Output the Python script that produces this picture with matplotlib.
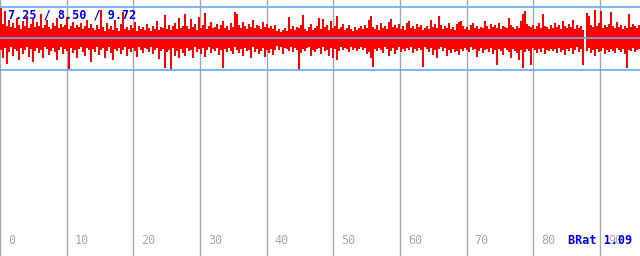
import matplotlib
matplotlib.use("Agg")
import matplotlib.pyplot as plt
import numpy as np

# ---- data (heights in pixels, one value per 2 px) ----
up_heights = [
    30, 14, 27, 12, 18, 11, 15, 10, 20, 13, 9, 17, 12, 22, 10, 14, 19, 11, 16, 12, 24, 10, 13, 18, 11, 9, 15, 12, 20, 10, 14, 11, 13, 21, 9, 12, 16, 10, 13, 11, 15, 9, 12, 18, 10, 14,
    10, 8, 13, 9, 28, 11, 7, 15, 9, 12, 8, 18, 10, 7, 14, 26, 9, 11, 8, 13, 10, 16, 7, 12, 9, 11, 8, 14, 10, 7, 12, 9, 17, 8, 11, 10, 23, 9, 13, 8, 12, 15, 9, 20, 10, 12,
    24, 12, 9, 19, 11, 14, 8, 21, 10, 13, 25, 9, 12, 16, 10, 11, 14, 9, 13, 17, 10, 12, 8, 15, 11, 26, 24, 13, 10, 16, 12, 9, 14, 11, 18, 10, 13, 12, 9, 16, 11, 14, 10, 12, 9, 13,
    7, 9, 6, 8, 10, 7, 21, 9, 12, 8, 11, 10, 13, 23, 9, 7, 11, 14, 8, 10, 12, 20, 9, 19, 11, 13, 8, 17, 10, 12, 22, 9, 11, 14, 8, 10, 13, 9, 7, 11, 8, 10, 12, 9, 13, 10,
    18, 22, 11, 9, 13, 8, 15, 10, 12, 9, 16, 19, 11, 13, 10, 14, 9, 12, 8, 15, 17, 10, 12, 9, 14, 11, 13, 8, 10, 12, 9, 18, 11, 14, 10, 22, 13, 9, 12, 10, 15, 9, 11, 8, 14, 16,
    17, 12, 9, 11, 8, 13, 15, 10, 12, 9, 11, 10, 17, 12, 9, 14, 11, 13, 10, 15, 9, 12, 11, 10, 20, 13, 11, 9, 12, 10, 17, 24, 27, 14, 12, 11, 13, 9, 12, 15, 10, 24, 12, 11, 9, 13,
    10, 15, 11, 13, 9, 17, 12, 10, 14, 11, 18, 9, 13, 10, 12, 8, 0, 25, 22, 13, 11, 28, 12, 15, 27, 10, 13, 11, 14, 26, 12, 10, 16, 11, 13, 9, 12, 10, 24, 11, 14, 12, 10, 13,
]
down_heights = [
    12, 20, 10, 26, 14, 9, 18, 11, 13, 22, 10, 16, 12, 9, 19, 11, 24, 13, 10, 15, 12, 20, 9, 11, 17, 13, 10, 14, 22, 12, 9, 16, 11, 13, 31, 10, 15, 12, 20, 11, 9, 14, 18, 10, 12, 24,
    11, 14, 9, 17, 12, 10, 20, 13, 9, 15, 22, 11, 13, 10, 16, 12, 9, 18, 11, 14, 10, 13, 19, 9, 12, 15, 10, 11, 14, 9, 16, 12, 10, 21, 13, 11, 30, 14, 12, 32, 10, 18, 13, 20, 11, 15,
    18, 10, 13, 12, 20, 9, 14, 11, 16, 10, 19, 12, 9, 15, 11, 13, 10, 17, 12, 30, 11, 14, 10, 13, 16, 9, 12, 15, 11, 18, 10, 13, 12, 20, 9, 14, 11, 16, 13, 10, 19, 12, 15, 11, 17, 12,
    8, 12, 9, 16, 10, 11, 13, 9, 14, 10, 12, 32, 15, 11, 13, 10, 9, 18, 12, 14, 11, 10, 16, 9, 13, 12, 18, 10, 20, 11, 22, 13, 9, 12, 10, 11, 14, 9, 12, 10, 13, 11, 9, 12, 10, 16,
    14, 20, 29, 11, 13, 10, 12, 15, 9, 11, 18, 13, 10, 16, 12, 9, 14, 11, 13, 10, 12, 9, 15, 11, 13, 10, 12, 29, 9, 11, 14, 10, 17, 12, 20, 11, 9, 13, 10, 18, 12, 15, 11, 14, 13, 17,
    11, 13, 10, 12, 14, 9, 12, 11, 19, 13, 10, 15, 12, 11, 14, 10, 16, 12, 27, 11, 13, 17, 10, 12, 14, 20, 11, 13, 15, 22, 12, 30, 14, 11, 13, 27, 10, 12, 15, 11, 14, 10, 16, 12, 13, 11,
    13, 11, 15, 10, 14, 12, 17, 11, 13, 10, 16, 12, 9, 14, 11, 27, 0, 13, 10, 15, 12, 18, 11, 14, 13, 10, 16, 12, 14, 11, 13, 15, 10, 12, 14, 11, 16, 30, 12, 13, 10, 14, 12, 11,
]
tick_values = [0, 10, 20, 30, 40, 50, 60, 70, 80, 90]
tick_labels = ["0", "10", "20", "30", "40", "50", "60", "70", "80", "90"]
title_text = "7.25 / 8.50 / 9.72"
brat_text = "BRat 1.09"

# ---- layout ----
W, H = 640, 256
x_max = 96.0                 # time units over the full width
unit_per_px = x_max / W
fig = plt.figure(figsize=(W / 100, H / 100), dpi=100)
ax = fig.add_axes([0, 0, 1, 1])
ax.set_xlim(0, x_max)
ax.set_ylim(-(H - 38), 38)   # centre line is 38 px from top
ax.axis("off")

gray = "#a8a8a8"
blue_line = "#64aaf0"
red = "#ff0000"
txt_blue = "#0000ee"

for t in tick_values:
    ax.axvline(t, color=gray, lw=1.0, zorder=1)

n = len(up_heights)
xs = (np.arange(n) * 2 + 1) * unit_per_px
w = 2 * unit_per_px
ax.bar(xs, up_heights, width=w, bottom=0, color=red, linewidth=0, zorder=2, antialiased=False)
ax.bar(xs, -np.array(down_heights), width=w, bottom=0, color=red, linewidth=0, zorder=2, antialiased=False)

for yv in (31, 0, -32):
    ax.axhline(yv, color=blue_line, lw=1.2, zorder=3)

mono = "DejaVu Sans Mono"
for t, lab in zip(tick_values, tick_labels):
    ax.text(t + 8 * unit_per_px, -(241 - 38), lab, color=gray, fontsize=8.5,
            family=mono, ha="left", va="center", zorder=4)

ax.text(8 * unit_per_px, 38 - 14.5, title_text, color=txt_blue, fontsize=8.5,
        family=mono, fontweight="bold", ha="left", va="center", zorder=5)
ax.text(632 * unit_per_px, -(241 - 38), brat_text, color=txt_blue, fontsize=8.5,
        family=mono, fontweight="bold", ha="right", va="center", zorder=5)

fig.savefig("out.png", dpi=100)
